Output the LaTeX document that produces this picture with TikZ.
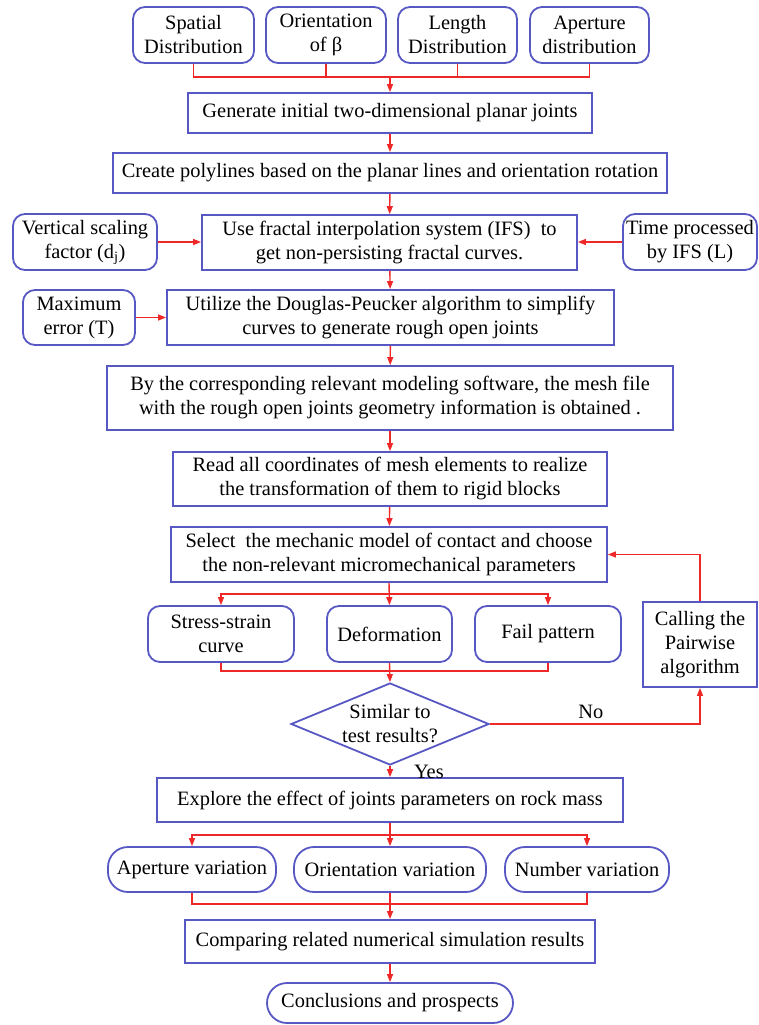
\documentclass[tikz,border=0pt]{standalone}
\usepackage{fontspec}
\setmainfont{Liberation Serif}
\usepackage{xcolor}
\definecolor{boxblue}{RGB}{88, 88, 196}
\definecolor{linkred}{RGB}{238, 40, 40}
\usetikzlibrary{shapes.geometric,arrows.meta,positioning}

\begin{document}
\begin{tikzpicture}[x=1pt, y=-1pt,
    font=\fontsize{20.4}{24}\selectfont,
    plainbox/.style={draw=boxblue, line width=1.8pt, rectangle, align=center, inner sep=0pt},
    roundbox/.style={plainbox, rounded corners=12pt},
    pillbox/.style={plainbox, rounded corners=20pt},
    decision/.style={draw=boxblue, line width=1.8pt, diamond, inner sep=0pt},
    link/.style={draw=linkred, line width=1.4pt},
    arr/.style={link, -{Triangle[length=8pt, width=6pt]}}]
    \useasboundingbox (0, 0) rectangle (758, 1025);

    % Joint parameters
    \node[roundbox, minimum width=121pt, minimum height=56pt] (sd) at (193.5, 35) {Spatial\\Distribution};
    \node[roundbox, minimum width=120pt, minimum height=56pt] (ob) at (326, 35) {Orientation\\of β};
    \node[roundbox, minimum width=119pt, minimum height=56pt] (ld) at (457.5, 35) {Length\\Distribution};
    \node[roundbox, minimum width=119pt, minimum height=56pt] (ad) at (589.5, 35) {Aperture\\distribution};
    \coordinate (topbus) at (390, 77);

    % Geometry generation
    \node[plainbox, minimum width=404pt, minimum height=40pt] (gen) at (390, 113) {Generate initial two-dimensional planar joints};
    \node[plainbox, minimum width=554pt, minimum height=40pt] (poly) at (390, 173) {Create polylines based on the planar lines and orientation rotation};
    \node[plainbox, minimum width=375pt, minimum height=55pt] (ifs) at (389.5, 242.5) {Use fractal interpolation system (IFS)\ \ to\\get non-persisting fractal curves.};
    \node[roundbox, minimum width=144pt, minimum height=56pt] (vsf) at (85, 242) {Vertical scaling\\factor (d\textsubscript{j})};
    \node[roundbox, minimum width=134pt, minimum height=56pt] (tpi) at (690, 242) {Time processed\\by IFS (L)};
    \node[plainbox, minimum width=447pt, minimum height=55pt] (dp) at (390.5, 317.5) {Utilize the Douglas-Peucker algorithm to simplify\\curves to generate rough open joints};
    \node[roundbox, minimum width=112pt, minimum height=55pt] (maxe) at (79, 317.5) {Maximum\\error (T)};

    % Numerical model
    \node[plainbox, minimum width=566pt, minimum height=64pt] (mesh) at (390, 398) {By the corresponding relevant modeling software, the mesh file\\with the rough open joints geometry information is obtained .};
    \node[plainbox, minimum width=434pt, minimum height=54pt] (read) at (390, 479) {Read all coordinates of mesh elements to realize\\the transformation of them to rigid blocks};
    \node[plainbox, minimum width=436pt, minimum height=55pt] (sel) at (389, 554.5) {Select\ \ the mechanic model of contact and choose\\the non-relevant micromechanical parameters};
    \coordinate (selbus) at (390, 594);

    % Calibration
    \node[roundbox, minimum width=146pt, minimum height=56pt] (ssc) at (221, 634) {Stress-strain\\curve};
    \node[roundbox, minimum width=125pt, minimum height=56pt] (dfm) at (389.5, 634) {Deformation};
    \node[roundbox, minimum width=146pt, minimum height=56pt] (fpt) at (548, 634) {Fail pattern};
    \coordinate (resbus) at (390, 671);
    \node[decision, minimum width=198pt, minimum height=82pt,
        label={[align=center]center:Similar to\\test results?}] (sim) at (390, 724) {};
    \node[plainbox, minimum width=114pt, minimum height=85pt] (call) at (700, 644.5) {Calling the\\Pairwise\\algorithm};

    % Parameter study
    \node[plainbox, minimum width=466pt, minimum height=44pt] (expl) at (390, 800) {Explore the effect of joints parameters on rock mass};
    \coordinate (explbus) at (390, 835);
    \node[pillbox, minimum width=168pt, minimum height=45pt] (apv) at (192, 869.5) {Aperture variation};
    \node[pillbox, minimum width=192pt, minimum height=45pt] (orv) at (390, 869.5) {Orientation variation};
    \node[pillbox, minimum width=164pt, minimum height=45pt] (nmv) at (587, 869.5) {Number variation};
    \coordinate (varbus) at (390, 904);
    \node[plainbox, minimum width=410pt, minimum height=43pt] (cmp) at (390, 941.5) {Comparing related numerical simulation results};
    \node[pillbox, minimum width=246pt, minimum height=40pt] (concl) at (390, 1003) {Conclusions and prospects};

    % Connectors
    \draw[link] (sd.south) |- (topbus);
    \draw[link] (ob.south) -- (ob.south |- topbus);
    \draw[link] (ld.south) -- (ld.south |- topbus);
    \draw[link] (ad.south) |- (topbus);
    \draw[arr] (topbus) -- (gen.north);
    \draw[arr] (gen) -- (poly);
    \draw[arr] (poly) -- (ifs);
    \draw[arr] (vsf.east) -- (vsf.east -| ifs.west);
    \draw[arr] (tpi.west) -- (tpi.west -| ifs.east);
    \draw[arr] (ifs) -- (dp);
    \draw[arr] (maxe.east) -- (maxe.east -| dp.west);
    \draw[arr] (dp) -- (mesh);
    \draw[arr] (mesh) -- (read);
    \draw[arr] (read) -- (sel);

    \draw[arr] (sel.south) -- (dfm.north);
    \draw[arr] (selbus) -| (ssc.north);
    \draw[arr] (selbus) -| (fpt.north);
    \draw[link] (ssc.south) |- (resbus);
    \draw[link] (fpt.south) |- (resbus);
    \draw[arr] (dfm.south) -- (sim.north);
    \draw[arr] (sim.east) -| node[pos=0.24, above=1pt] {No} (call.south);
    \draw[arr] (call.north) |- (sel.east);
    \draw[arr] (sim.south) -- node[midway, right=20pt] {Yes} (expl.north);

    \draw[arr] (expl.south) -- (orv.north);
    \draw[arr] (explbus) -| (apv.north);
    \draw[arr] (explbus) -| (nmv.north);
    \draw[link] (apv.south) |- (varbus);
    \draw[link] (nmv.south) |- (varbus);
    \draw[arr] (orv.south) -- (cmp.north);
    \draw[arr] (cmp) -- (concl);
\end{tikzpicture}
\end{document}
